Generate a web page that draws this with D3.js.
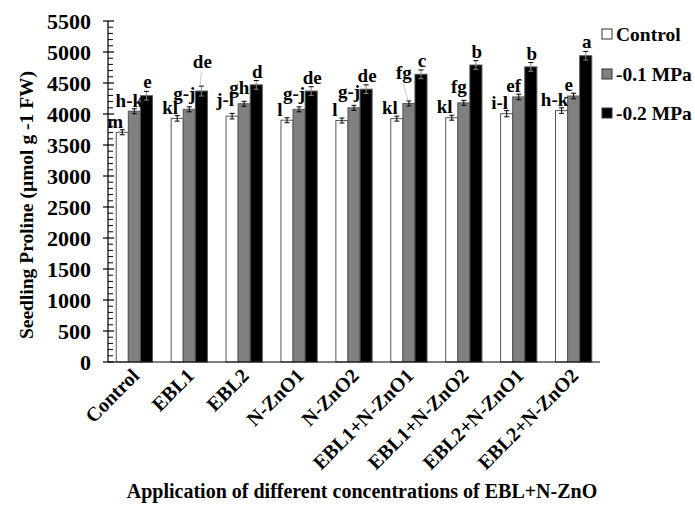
<!DOCTYPE html>
<html>
<head>
<meta charset="utf-8">
<script src="https://cdn.jsdelivr.net/npm/d3@7"></script>
<style>
  html, body { margin: 0; padding: 0; background: #fff; }
  svg { display: block; font-family: "Liberation Serif", "Times New Roman", serif; font-weight: bold; }
</style>
</head>
<body>
<svg id="chart" width="695" height="510"></svg>
<script>
// ---------- data ----------
const categories = ["Control", "EBL1", "EBL2", "N-ZnO1", "N-ZnO2", "EBL1+N-ZnO1", "EBL1+N-ZnO2", "EBL2+N-ZnO1", "EBL2+N-ZnO2"];
const seriesNames = ["Control", "-0.1 MPa", "-0.2 MPa"];
const controlValues = [3705, 3930, 3965, 3900, 3895, 3925, 3940, 4005, 4055];
const mpa01Values   = [4045, 4075, 4165, 4075, 4100, 4170, 4180, 4275, 4290];
const mpa02Values   = [4295, 4370, 4470, 4370, 4400, 4640, 4790, 4760, 4940];
const controlErr = [40, 45, 45, 40, 40, 40, 40, 50, 45];
const mpa01Err   = [40, 40, 40, 40, 40, 40, 40, 45, 45];
const mpa02Err   = [70, 80, 70, 70, 70, 70, 70, 70, 70];
const controlLetters = ["m", "kl", "j-l", "l", "l", "kl", "kl", "i-l", "h-k"];
const mpa01Letters   = ["h-k", "g-j", "gh", "g-j", "g-j", "fg", "fg", "ef", "e"];
const mpa02Letters   = ["e", "de", "d", "de", "de", "c", "b", "b", "a"];
const yTicks = [0, 500, 1000, 1500, 2000, 2500, 3000, 3500, 4000, 4500, 5000, 5500];
const yMinorStep = 100;
// labels that sit higher with a thin leader line
const raisedLabels = [["EBL1", "-0.2 MPa"], ["EBL1+N-ZnO1", "-0.1 MPa"]];

const yLabel = "Seedling Proline (\u00b5mol g -1 FW)";
const xLabel = "Application of different concentrations of EBL+N-ZnO";

// ---------- build table ----------
const valuesBySeries = [controlValues, mpa01Values, mpa02Values];
const errBySeries = [controlErr, mpa01Err, mpa02Err];
const lettersBySeries = [controlLetters, mpa01Letters, mpa02Letters];
const fills = ["#ffffff", "#808080", "#000000"];

const rows = [];
categories.forEach((c, i) => {
  seriesNames.forEach((s, j) => {
    rows.push({cat: c, series: s, si: j, value: valuesBySeries[j][i], err: errBySeries[j][i], letter: lettersBySeries[j][i]});
  });
});

// ---------- layout ----------
const svg = d3.select("#chart");
const mLeft = 108, mRight = 600, mTop = 21, mBottom = 362;

const x0 = d3.scaleBand().domain(categories).range([mLeft, mRight]).paddingInner(0.34).paddingOuter(0.15);
const x1 = d3.scaleBand().domain(seriesNames).range([0, x0.bandwidth()]).padding(0);
const y = d3.scaleLinear().domain([0, 5500]).range([mBottom, mTop]);

// bars
const g = svg.append("g");
g.selectAll("rect.bar").data(rows).join("rect")
  .attr("class", "bar")
  .attr("x", d => x0(d.cat) + x1(d.series))
  .attr("y", d => y(d.value))
  .attr("width", x1.bandwidth())
  .attr("height", d => y(0) - y(d.value))
  .attr("fill", d => fills[d.si])
  .attr("stroke", "#555")
  .attr("stroke-width", 1);

// error bars
const eb = g.selectAll("g.err").data(rows).join("g").attr("class", "err");
const cx = d => x0(d.cat) + x1(d.series) + x1.bandwidth() / 2;
eb.append("line")
  .attr("x1", cx).attr("x2", cx)
  .attr("y1", d => y(d.value + d.err)).attr("y2", d => y(d.value - d.err))
  .attr("stroke", d => d.si === 2 ? "#888" : "#000").attr("stroke-width", 1);
eb.append("line")
  .attr("x1", d => cx(d) - 2.5).attr("x2", d => cx(d) + 2.5)
  .attr("y1", d => y(d.value + d.err)).attr("y2", d => y(d.value + d.err))
  .attr("stroke", "#000").attr("stroke-width", 1);
eb.append("line")
  .attr("x1", d => cx(d) - 2.5).attr("x2", d => cx(d) + 2.5)
  .attr("y1", d => y(d.value - d.err)).attr("y2", d => y(d.value - d.err))
  .attr("stroke", d => d.si === 2 ? "#888" : "#000").attr("stroke-width", 1);

// letters
const isRaised = d => raisedLabels.some(r => r[0] === d.cat && r[1] === d.series);
const hasDesc = d => /[gjpqy]/.test(d.letter);
const labelX = d => cx(d) + (d.si === 2 ? 1 : d.si === 0 ? -7 : -5);
const labelY = d => y(d.value + d.err) - (d.si === 2 ? 3 : 2) - (hasDesc(d) ? 5 : 0) - (isRaised(d) ? 15 : 0);
g.selectAll("line.leader").data(rows.filter(isRaised)).join("line")
  .attr("class", "leader")
  .attr("x1", d => labelX(d) - 1).attr("x2", d => cx(d) - 1)
  .attr("y1", d => labelY(d) + 4).attr("y2", d => y(d.value + d.err) - 1)
  .attr("stroke", "#bbb").attr("stroke-width", 0.8);
g.selectAll("text.letter").data(rows).join("text")
  .attr("class", "letter")
  .attr("x", labelX)
  .attr("y", labelY)
  .attr("text-anchor", "middle")
  .attr("font-size", 19)
  .attr("fill", "#000")
  .text(d => d.letter);

// y axis
const ax = svg.append("g");
ax.append("line").attr("x1", mLeft).attr("x2", mLeft).attr("y1", y(0)).attr("y2", y(5500)).attr("stroke", "#000").attr("stroke-width", 1.2);
const minor = d3.range(0, 5500 + 1, yMinorStep).filter(v => v % 500 !== 0);
ax.selectAll("line.minor").data(minor).join("line")
  .attr("x1", mLeft).attr("x2", mLeft + 5)
  .attr("y1", d => y(d)).attr("y2", d => y(d))
  .attr("stroke", "#000").attr("stroke-width", 1);
ax.selectAll("line.major").data(yTicks).join("line")
  .attr("x1", mLeft - 5).attr("x2", mLeft + 6)
  .attr("y1", d => y(d)).attr("y2", d => y(d))
  .attr("stroke", "#000").attr("stroke-width", 1.2);
ax.selectAll("text.ytick").data(yTicks).join("text")
  .attr("x", mLeft - 17).attr("y", d => y(d))
  .attr("dy", "0.35em")
  .attr("text-anchor", "end")
  .attr("font-size", 22)
  .text(d => d);

// x axis
svg.append("line").attr("x1", mLeft).attr("x2", mRight).attr("y1", y(0)).attr("y2", y(0)).attr("stroke", "#000").attr("stroke-width", 1.2);
svg.selectAll("text.xtick").data(categories).join("text")
  .attr("class", "xtick")
  .attr("transform", c => `translate(${x0(c) + x0.bandwidth() / 2 + 6},${mBottom + 15}) rotate(-45)`)
  .attr("text-anchor", "end")
  .attr("font-size", 20)
  .text(c => c);

// axis titles
svg.append("text")
  .attr("transform", `translate(33,205) rotate(-90)`)
  .attr("text-anchor", "middle")
  .attr("font-size", 19.5)
  .text(yLabel);
svg.append("text")
  .attr("x", 362).attr("y", 498)
  .attr("text-anchor", "middle")
  .attr("font-size", 20)
  .text(xLabel);

// legend
const legendY = [34, 74, 113];
const lg = svg.selectAll("g.legend").data(seriesNames).join("g").attr("class", "legend")
  .attr("transform", (s, i) => `translate(602,${legendY[i]})`);
lg.append("rect").attr("x", 0).attr("y", -5).attr("width", 10).attr("height", 10)
  .attr("fill", (s, i) => fills[i]).attr("stroke", "#333").attr("stroke-width", 1);
lg.append("text").attr("x", 14).attr("y", 0).attr("dy", "0.35em")
  .attr("font-size", 19.5).text(s => s);
</script>
</body>
</html>
